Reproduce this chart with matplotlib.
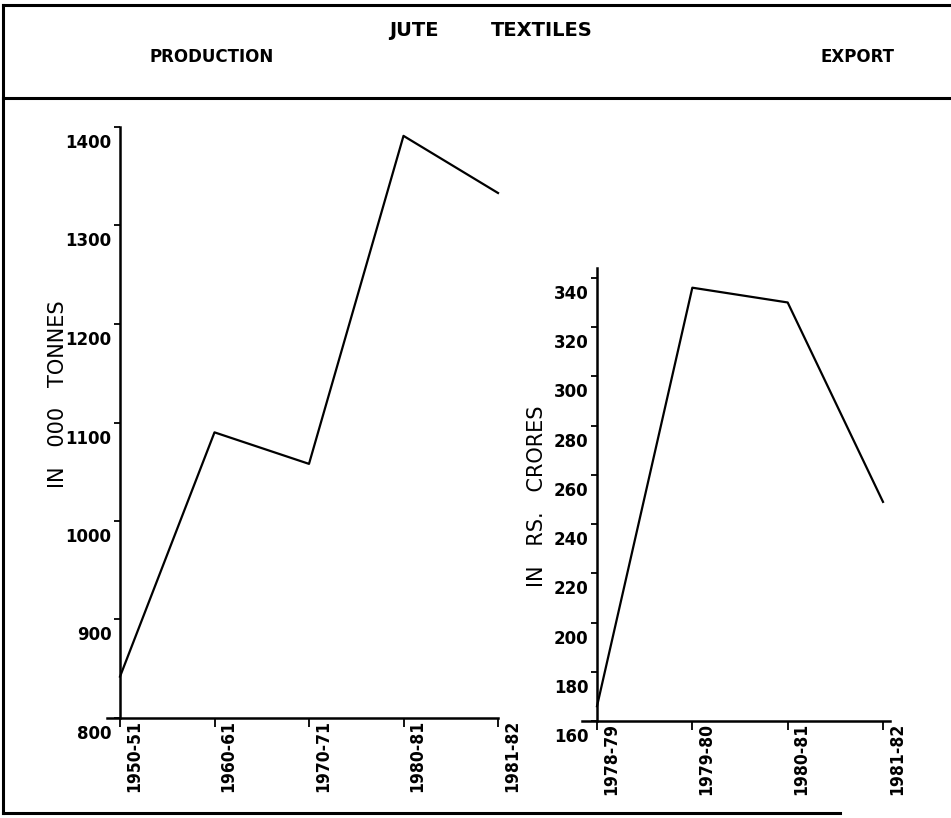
import matplotlib
matplotlib.use('Agg')
from matplotlib import pyplot as plt
from matplotlib.lines import Line2D
from matplotlib.transforms import ScaledTranslation

# jute textiles: production (000 tonnes) and export (Rs. crores)
prod_years = ['1950-51', '1960-61', '1970-71', '1980-81', '1981-82']
prod_values = [842, 1090, 1058, 1391, 1333]
prod_ticks = [800, 900, 1000, 1100, 1200, 1300, 1400]

exp_years = ['1978-79', '1979-80', '1980-81', '1981-82']
exp_values = [166, 336, 330, 249]
exp_ticks = [160, 180, 200, 220, 240, 260, 280, 300, 320, 340]

W, H = 951, 818
fig = plt.figure(figsize=(W / 100, H / 100), dpi=100)


def px_box(x0, x1, y_top, y_bot):
    return [x0 / W, 1 - y_bot / H, (x1 - x0) / W, (y_bot - y_top) / H]


def style_axes(ax, xlabels, yticks, ylim, xext):
    n = len(xlabels)
    ax.set_xlim(0, n - 1)
    ax.set_ylim(*ylim)
    for s in ['top', 'right']:
        ax.spines[s].set_visible(False)
    ax.spines['left'].set_linewidth(1.8)
    ax.spines['bottom'].set_linewidth(1.8)
    ax.spines['bottom'].set_bounds(xext[0], xext[1])
    ax.set_xticks(range(n))
    ax.set_xticklabels(xlabels, rotation=90, va='top', ha='center',
                       fontsize=12.5, fontweight='bold', fontstretch='condensed')
    ax.set_yticks(yticks)
    ax.set_yticklabels([str(v) for v in yticks], fontsize=12, fontweight='bold')
    ax.tick_params(axis='y', direction='out', length=4.5, width=1.3, pad=1.5)
    ax.tick_params(axis='x', direction='out', length=6.5, width=1.3, pad=-5)
    # labels sit a little off the ticks, as in the hand drawn original
    for lab in ax.get_yticklabels():
        lab.set_transform(lab.get_transform() + ScaledTranslation(0, -0.14, fig.dpi_scale_trans))
    for lab in ax.get_xticklabels():
        lab.set_transform(lab.get_transform() + ScaledTranslation(0.14, 0, fig.dpi_scale_trans))


# production panel
ax1 = fig.add_axes(px_box(120, 498, 127, 718))
ax1.plot(range(len(prod_years)), prod_values, color='black', lw=1.6, clip_on=False)
style_axes(ax1, prod_years, prod_ticks, (800, 1400), (-0.14, 4))

# export panel
ax2 = fig.add_axes(px_box(597, 883, 268, 721))
ax2.plot(range(len(exp_years)), exp_values, color='black', lw=1.6, clip_on=False)
style_axes(ax2, exp_years, exp_ticks, (160, 344), (-0.16, 3.07))

# axis titles
fig.text(58 / W, 1 - 394 / H, 'IN   000   TONNES', rotation=90, fontsize=15,
         ha='center', va='center')
fig.text(537 / W, 1 - 496 / H, 'IN   RS.   CRORES', rotation=90, fontsize=15,
         ha='center', va='center')

# header
fig.text(414 / W, 1 - 30 / H, 'JUTE', fontsize=14, fontweight='bold', ha='center', va='center')
fig.text(542 / W, 1 - 30 / H, 'TEXTILES', fontsize=14, fontweight='bold', ha='center', va='center')
fig.text(212 / W, 1 - 57 / H, 'PRODUCTION', fontsize=12, fontweight='bold', ha='center', va='center')
fig.text(858 / W, 1 - 57 / H, 'EXPORT', fontsize=12, fontweight='bold', ha='center', va='center')

# frame lines
frame = [
    ([3, W], [5, 5]),
    ([3, W], [98, 98]),
    ([3, 840], [813, 813]),
    ([3, 3], [5, 813]),
]
for xs, ys in frame:
    fig.add_artist(Line2D([x / W for x in xs], [1 - y / H for y in ys],
                          color='black', lw=2.2, transform=fig.transFigure))

plt.savefig('out.png', dpi=100)
